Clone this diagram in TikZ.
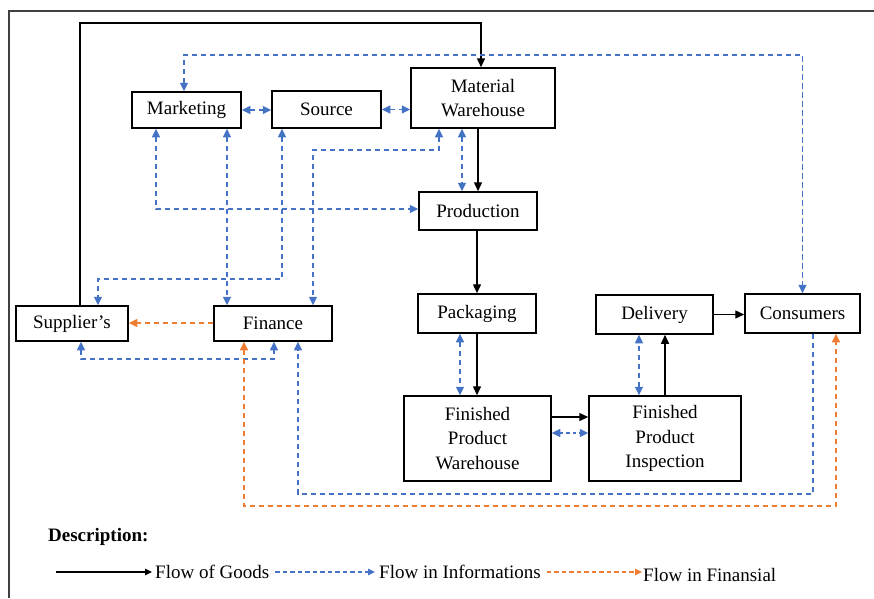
\documentclass[tikz,border=0pt]{standalone}
\usepackage{fontspec}
\setmainfont{Liberation Serif}
\usetikzlibrary{arrows.meta,calc}
\definecolor{infoblue}{HTML}{4472C4}
\definecolor{finorange}{HTML}{ED7D31}
\begin{document}
\begin{tikzpicture}[x=1pt,y=-1pt,
  box/.style={draw, line width=1.5pt, inner sep=0pt, align=center, font=\fontsize{19}{24.5}\selectfont},
  goods/.style={line width=1.4pt, -{Triangle[length=9pt,width=8pt]}},
  info/.style={line width=1.4pt, infoblue, dash pattern=on 5.5pt off 3.5pt, {Triangle[length=8.5pt,width=8pt]}-{Triangle[length=8.5pt,width=8pt]}},
  infoone/.style={line width=1.4pt, infoblue, dash pattern=on 5.5pt off 3.5pt, -{Triangle[length=8.5pt,width=8pt]}},
  finflow/.style={line width=1.5pt, finorange, dash pattern=on 5.5pt off 3.5pt, -{Triangle[length=8.5pt,width=8pt]}},
  finboth/.style={line width=1.4pt, finorange, dash pattern=on 5.5pt off 3.5pt, {Triangle[length=8.5pt,width=8pt]}-{Triangle[length=8.5pt,width=8pt]}},
  legtxt/.style={inner sep=0pt, anchor=west, font=\fontsize{19}{22}\selectfont}
]
\useasboundingbox (0,0) rectangle (874,598);
% frame
\draw[line width=1.3pt, black!75] (9,598) -- (9,11) -- (874,11);

% nodes
\node[box, minimum width=109pt, minimum height=36pt] (mkt) at (186.5,110) {Marketing};
\node[box, minimum width=109pt, minimum height=37pt] (src) at (326.5,109.5) {Source};
\node[box, minimum width=144pt, minimum height=60pt] (mw) at (483,98) {Material\\Warehouse};
\node[box, minimum width=118pt, minimum height=38pt] (prod) at (478,211) {Production};
\node[box, minimum width=118pt, minimum height=39pt] (pack) at (477,313.5) {Packaging};
\node[box, minimum width=117pt, minimum height=39pt] (dlv) at (654.5,314.5) {Delivery};
\node[box, minimum width=115pt, minimum height=39pt] (cons) at (802.5,313.5) {Consumers};
\node[box, minimum width=112pt, minimum height=35pt] (sup) at (72,323.5) {Supplier’s};
\node[box, minimum width=118pt, minimum height=35pt] (fin) at (273,323.5) {Finance};
\node[box, minimum width=147pt, minimum height=85pt] (fpw) at (477.5,438.5) {Finished\\Product\\Warehouse};
\node[box, minimum width=152pt, minimum height=85pt] (fpi) at (665,438.5) {Finished\\Product\\Inspection};

% corner coordinates
\coordinate (ctop) at (300,23);
\coordinate (cinfo) at (500,55);
\coordinate (c150) at (400,150);
\coordinate (c279) at (200,279);
\coordinate (c359) at (200,359);
\coordinate (c494) at (500,494);
\coordinate (c506) at (500,506);

% flow of goods
\draw[goods] ([xshift=8pt]sup.north) |- (ctop) -| ([xshift=-2pt]mw.north);
\draw[goods] (prod.north |- mw.south) -- (prod.north);
\draw[goods] (pack.north |- prod.south) -- (pack.north);
\draw[goods] (pack.south) -- (pack.south |- fpw.north);
\draw[goods] ([yshift=21.5pt]fpw.east) -- ([yshift=21.5pt]fpw.east -| fpi.west);
\draw[goods] (fpi.north) -- (fpi.north |- dlv.south);
\draw[goods] (dlv.east) -- (dlv.east -| cons.west);

% information flows
\draw[info] (mkt.east) -- (mkt.east -| src.west);
\draw[info] (src.east) -- (src.east -| mw.west);
\draw[info] ([xshift=-2.5pt]mkt.north) |- (cinfo) -| (cons.north);
\draw[info] ([xshift=-30.5pt]mkt.south) |- ([yshift=2pt]prod.west);
\draw[info] ([xshift=40.5pt]mkt.south) -- ([xshift=40.5pt]mkt.south |- fin.north);
\draw[info] ([xshift=-44.5pt]src.south) |- (c279) -| ([xshift=26pt]sup.north);
\draw[info] ([xshift=-44pt]mw.south) |- (c150) -| ([xshift=40pt]fin.north);
\draw[info] ([xshift=-21pt]mw.south) -- ([xshift=-21pt]mw.south |- prod.north);
\draw[info] ([xshift=9pt]sup.south) |- (c359) -| ([xshift=1pt]fin.south);
\draw[infoone] ([xshift=10.5pt]cons.south) |- (c494) -| ([xshift=25pt]fin.south);
\draw[info] ([xshift=-17pt]pack.south) -- ([xshift=-17pt]pack.south |- fpw.north);
\draw[info, dash pattern=on 3.5pt off 3pt] ([yshift=5.5pt]fpw.east) -- ([yshift=5.5pt]fpw.east -| fpi.west);
\draw[info] ([xshift=-26pt]fpi.north) -- ([xshift=-26pt]fpi.north |- dlv.south);

% financial flows
\draw[finflow] ([yshift=0.5pt]fin.west) -- ([yshift=0.5pt]fin.west -| sup.east);
\draw[finboth] ([xshift=-29pt]fin.south) |- (c506) -| ([xshift=33.5pt]cons.south);

% legend
\node[inner sep=0pt, anchor=west, font=\fontsize{19}{22}\selectfont\bfseries] (desc) at (48,537) {Description:};
\coordinate (lstart) at (56,572);
\node[legtxt] (lg1) at (155,572) {Flow of Goods};
\node[legtxt] (lg2) at (379,572) {Flow in Informations};
\node[legtxt] (lg3) at (643,575) {Flow in Finansial};
\draw[line width=1.4pt, -{Triangle[length=7pt,width=6.5pt]}] (lstart) -- ([xshift=-3pt]lg1.west);
\draw[line width=1.3pt, infoblue, dash pattern=on 4.5pt off 3pt, -{Triangle[length=7pt,width=6.5pt]}] ([xshift=6pt]lg1.east) -- ([xshift=-4pt]lg2.west);
\draw[line width=1.3pt, finorange, dash pattern=on 4.5pt off 3pt, -{Triangle[length=7pt,width=6.5pt]}] ([xshift=6pt]lg2.east |- lg2.west) -- ([xshift=-1pt]lg3.west |- lg2.west);
\end{tikzpicture}
\end{document}
